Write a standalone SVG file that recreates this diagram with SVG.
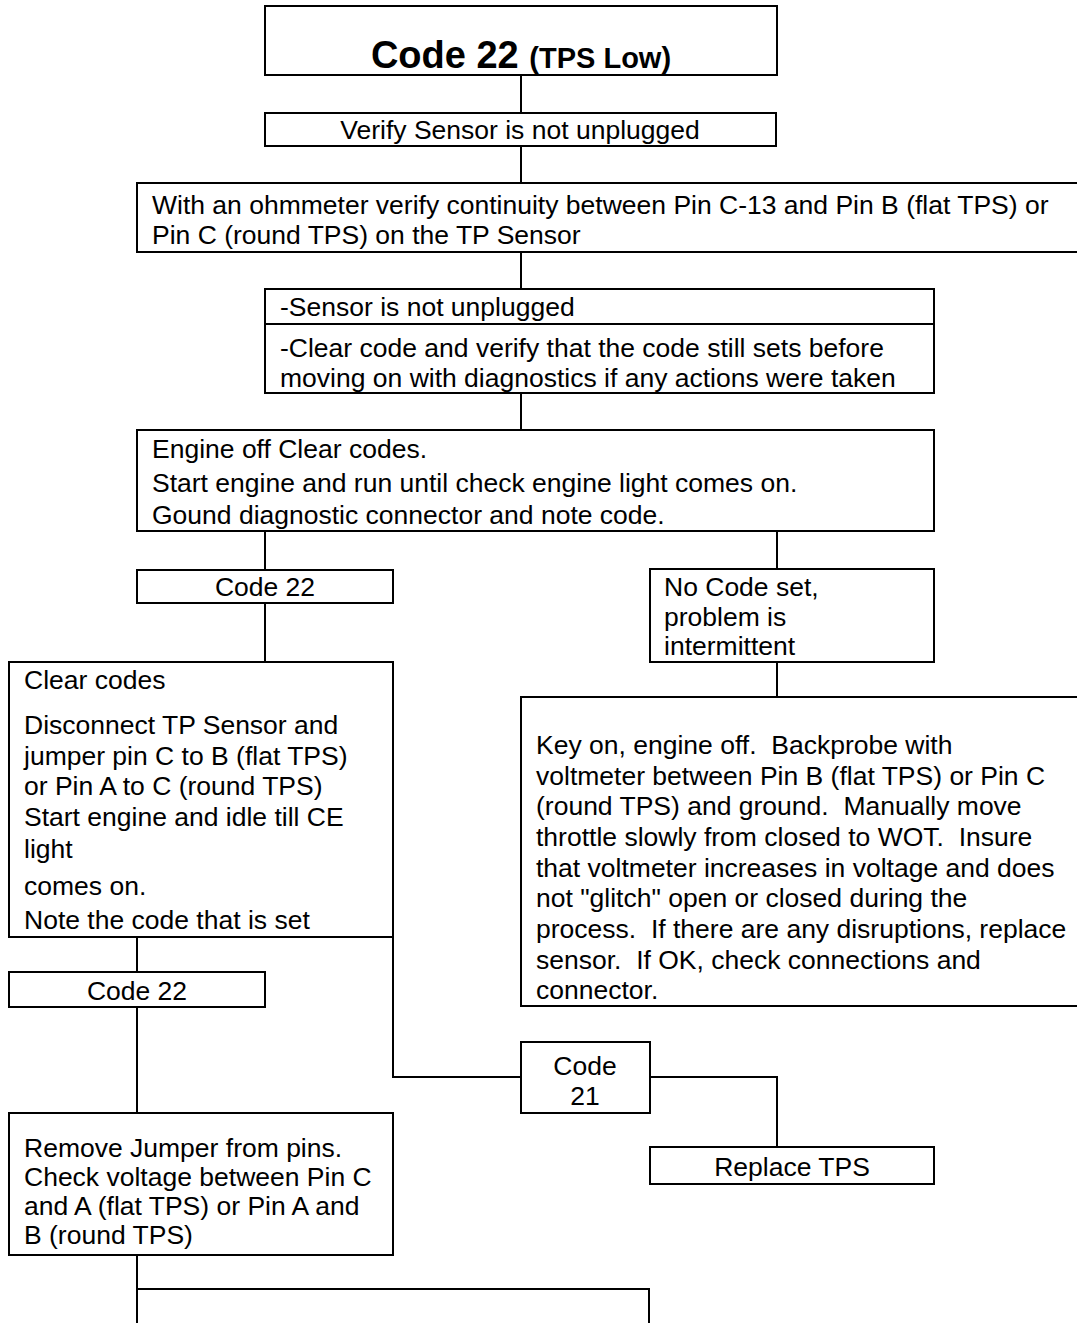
<svg xmlns="http://www.w3.org/2000/svg" width="1077" height="1323" viewBox="0 0 1077 1323">
<style>
.box{fill:#fff;stroke:#000;stroke-width:2}
.ln{fill:none;stroke:#000;stroke-width:2}
text{font-family:"Liberation Sans",Arial,sans-serif;font-size:26.5px;fill:#000}
.c{text-anchor:middle}
.b{font-weight:bold}
</style>
<rect width="1077" height="1323" fill="#fff"/>
<g id="connectors">
<path class="ln" d="M521 75V113M521 146V183M521 252V289M521 393V430M265 531V570M777 531V569M265 603V662M777 662V697M137 937V972M393 937V1077H521M137 1007V1113M650 1077H777V1147M137 1255V1323M137 1289H649V1323"/>
</g>
<g id="n_title"><rect class="box" x="265" y="6" width="512" height="69"/><text class="c b" x="521" y="68"><tspan style="font-size:38px">Code 22 </tspan><tspan style="font-size:29px">(TPS Low)</tspan></text></g>
<g id="n_verify"><rect class="box" x="265" y="113" width="511" height="33"/><text class="c" x="520" y="139">Verify Sensor is not unplugged</text></g>
<g id="n_ohm"><rect class="box" x="137" y="183" width="945" height="69"/><text x="152" y="214">With an ohmmeter verify continuity between Pin C-13 and Pin B (flat TPS) or</text><text x="152" y="244">Pin C (round TPS) on the TP Sensor</text></g>
<g id="n_sensor"><rect class="box" x="265" y="289" width="669" height="104"/><line class="ln" x1="265" y1="324" x2="934" y2="324"/><text x="280" y="316">-Sensor is not unplugged</text><text x="280" y="357">-Clear code and verify that the code still sets before</text><text x="280" y="387">moving on with diagnostics if any actions were taken</text></g>
<g id="n_engine"><rect class="box" x="137" y="430" width="797" height="101"/><text x="152" y="458">Engine off Clear codes.</text><text x="152" y="492">Start engine and run until check engine light comes on.</text><text x="152" y="524">Gound diagnostic connector and note code.</text></g>
<g id="n_code22a"><rect class="box" x="137" y="570" width="256" height="33"/><text class="c" x="265" y="596">Code 22</text></g>
<g id="n_nocode"><rect class="box" x="650" y="569" width="284" height="93"/><text x="664" y="596">No Code set,</text><text x="664" y="626">problem is</text><text x="664" y="655">intermittent</text></g>
<g id="n_clear"><rect class="box" x="9" y="662" width="384" height="275"/><text x="24" y="689">Clear codes</text><text x="24" y="734">Disconnect TP Sensor and</text><text x="24" y="765">jumper pin C to B (flat TPS)</text><text x="24" y="795">or Pin A to C (round TPS)</text><text x="24" y="826">Start engine and idle till CE</text><text x="24" y="858">light</text><text x="24" y="895">comes on.</text><text x="24" y="929">Note the code that is set</text></g>
<g id="n_keyon"><rect class="box" x="521" y="697" width="560" height="309"/><text x="536" y="754">Key on, engine off.&#160; Backprobe with</text><text x="536" y="785">voltmeter between Pin B (flat TPS) or Pin C</text><text x="536" y="815">(round TPS) and ground.&#160; Manually move</text><text x="536" y="846">throttle slowly from closed to WOT.&#160; Insure</text><text x="536" y="877">that voltmeter increases in voltage and does</text><text x="536" y="907">not "glitch" open or closed during the</text><text x="536" y="938">process.&#160; If there are any disruptions, replace</text><text x="536" y="969">sensor.&#160; If OK, check connections and</text><text x="536" y="999">connector.</text></g>
<g id="n_code22b"><rect class="box" x="9" y="972" width="256" height="35"/><text class="c" x="137" y="1000">Code 22</text></g>
<g id="n_code21"><rect class="box" x="521" y="1042" width="129" height="71"/><text class="c" x="585" y="1075">Code</text><text class="c" x="585" y="1105">21</text></g>
<g id="n_replace"><rect class="box" x="650" y="1147" width="284" height="37"/><text class="c" x="792" y="1176">Replace TPS</text></g>
<g id="n_remove"><rect class="box" x="9" y="1113" width="384" height="142"/><text x="24" y="1157">Remove Jumper from pins.</text><text x="24" y="1186">Check voltage between Pin C</text><text x="24" y="1215">and A (flat TPS) or Pin A and</text><text x="24" y="1244">B (round TPS)</text></g>
</svg>
